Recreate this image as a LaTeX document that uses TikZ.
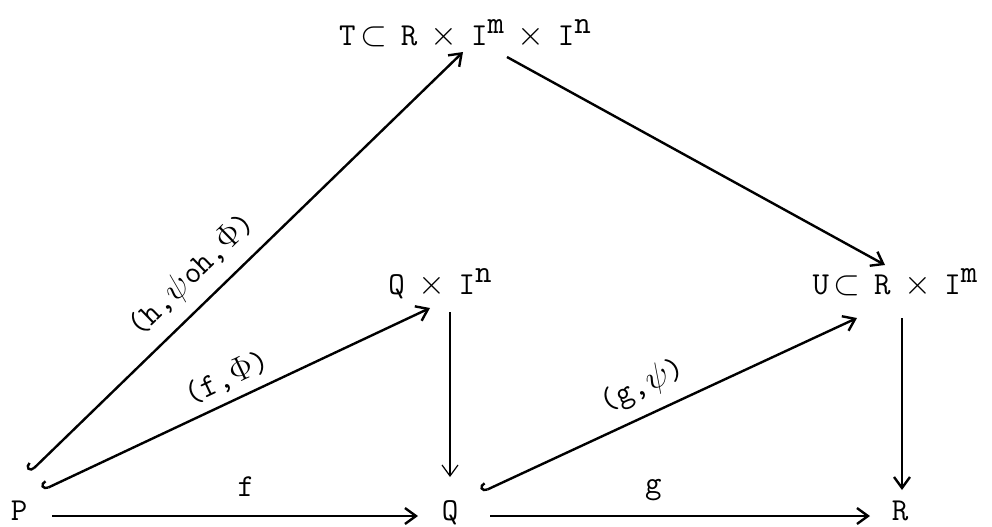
\documentclass[tikz,border=0pt]{standalone}
\usepackage{amsmath}
\usepackage{tikz}
\usetikzlibrary{arrows.meta, positioning}
\tikzset{
  obj/.style = {inner sep=1pt, font=\fontsize{16}{18}\selectfont\ttfamily},
  lbl/.style = {inner sep=2pt, font=\fontsize{16}{18}\selectfont\ttfamily},
  arrow/.style = {-{Straight Barb[length=5.5pt, width=8pt]}, line width=1.2pt},
  hookarrow/.style = {{Hooks[right, length=3pt, width=8pt]}-{Straight Barb[length=5.5pt, width=8pt]}, line width=1.2pt},
}
\newcommand{\sep}{\hspace{0.42em}}
\newcommand{\up}[1]{\raisebox{0.8ex}{#1}}

\begin{document}
\begin{tikzpicture}[x=0.5pt, y=-0.5pt]
    \useasboundingbox (0,0) rectangle (992,526);

    % Nodes
    \node (P) [obj, anchor=base] at (19,520) {P};
    \node (Q) [obj, anchor=base] at (450,520) {Q};
    \node (R) [obj, anchor=base] at (900,520) {R};
    \node (QI) [obj, anchor=base] at (440,294) {Q\sep$\times$\sep I\up{n}};
    \node (U) [obj, anchor=base] at (895,294) {U\hspace{0.15em}$\subset$\sep R\sep$\times$\sep I\up{m}};
    \node (T) [obj, anchor=base] at (465,45) {T\hspace{0.15em}$\subset$\sep R\sep$\times$\sep I\up{m}\sep$\times$\sep I\up{n}};

    % Arrows
    \draw [arrow] ([shift={(33,-4)}]P.base) -- ([shift={(-32,-4)}]Q.base)
        node [lbl, above=7pt, pos=0.53] (f) {f};
    \draw [arrow] ([shift={(40,-4)}]Q.base) -- ([shift={(-30,-4)}]R.base)
        node [lbl, above=5pt, pos=0.43] (g) {g};

    \draw [hookarrow] ([shift={(11,-48)}]P.base) -- ([shift={(-2,7)}]T.base)
        node [lbl, sloped, above=4pt, pos=0.42] (hpf) {(h,$\psi$oh,$\Phi$)};
    \draw [hookarrow] ([shift={(24,-30)}]P.base) -- ([shift={(-10,14)}]QI.base)
        node [lbl, sloped, above=2pt, pos=0.5] (fp) {(f,$\Phi$)};
    \draw [hookarrow] ([shift={(32,-28)}]Q.base) -- ([shift={(-38,24)}]U.base)
        node [lbl, sloped, above=4pt, pos=0.46] (gp) {(g,$\psi$)};

    \draw [arrow, line width=0.6pt] ([shift={(10,18)}]QI.base) -- ([shift={(0,-43)}]Q.base);
    \draw [arrow] ([shift={(7,24)}]U.base) -- ([shift={(2,-30)}]R.base);
    \draw [arrow] ([shift={(42,12)}]T.base) -- ([shift={(-10,-29)}]U.base);

\end{tikzpicture}
\end{document}
